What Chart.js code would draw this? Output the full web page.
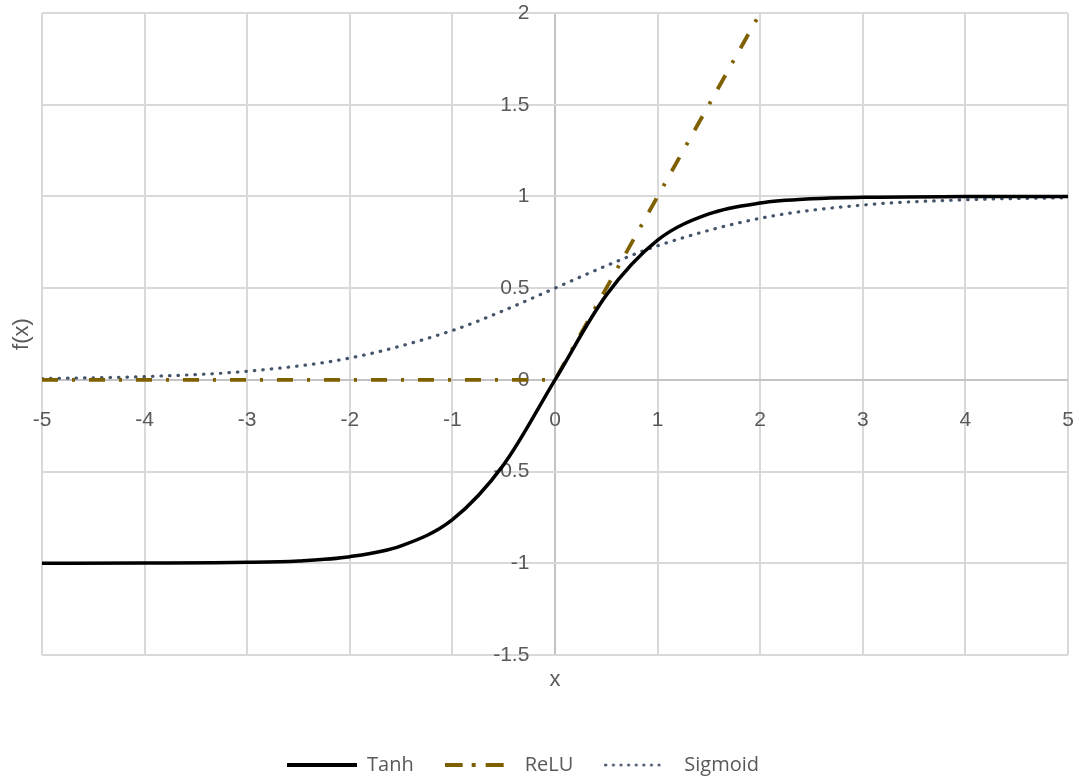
<!DOCTYPE html>
<html>
<head>
<meta charset="utf-8">
<title>Activation functions</title>
<script src="https://cdn.jsdelivr.net/npm/chart.js@4.4.1/dist/chart.umd.min.js"></script>
<style>
  html, body { margin: 0; padding: 0; background: #ffffff; }
  #wrap { width: 1079px; height: 782px; }
</style>
</head>
<body>
<div id="wrap"><canvas id="fnChart" width="1079" height="782"></canvas></div>
<script>
// values
const tanhX = [-5, -4, -3, -2.5, -2, -1.5, -1, -0.5, 0, 0.5, 1, 1.5, 2, 2.5, 3, 4, 5];
const tanhY = [-1, -0.999, -0.995, -0.987, -0.964, -0.905, -0.762, -0.462, 0, 0.462, 0.762, 0.905, 0.964, 0.987, 0.995, 0.999, 1];

const reluX = [-5, -4, -3, -2, -1, 0, 1, 2, 3, 4, 5];
const reluY = [0, 0, 0, 0, 0, 0, 1, 2, 3, 4, 5];

const sigmoidX = [-5, -4, -3, -2, -1, -0.5, 0, 0.5, 1, 2, 3, 4, 5];
const sigmoidY = [0.007, 0.018, 0.047, 0.119, 0.269, 0.378, 0.5, 0.622, 0.731, 0.881, 0.953, 0.982, 0.993];

const seriesNames = ['Tanh', 'ReLU', 'Sigmoid'];
const xTitle = 'x';
const yTitle = 'f(x)';

const xMin = -5, xMax = 5, xStep = 1;
const yMin = -1.5, yMax = 2, yStep = 0.5;

const textGray = '#595959';
const gridGray = '#d9d9d9';
const zeroGray = '#c4c4c4';
const tanhColor = '#000000';
const reluColor = '#7f6000';
const sigmoidColor = '#44546a';

function pairs(xs, ys) {
    return xs.map((x, i) => ({ x: x, y: ys[i] }));
}

// little line pictures for the legend, since point styles ignore dashes
function lineSample(color, width, dash, length) {
    const c = document.createElement('canvas');
    c.width = 70;
    c.height = 8;
    const g = c.getContext('2d');
    g.strokeStyle = color;
    g.lineWidth = width;
    g.setLineDash(dash);
    g.lineCap = dash.length && dash[0] < 1 ? 'round' : 'butt';
    g.beginPath();
    g.moveTo(g.lineCap === 'round' ? width / 2 : 0, 4);
    g.lineTo(length, 4);
    g.stroke();
    return c;
}

// axis titles, drawn next to the plot area
const axisTitles = {
    id: 'axisTitles',
    afterDraw(chart) {
        const { ctx, chartArea } = chart;
        ctx.save();
        ctx.fillStyle = textGray;
        ctx.font = '22px "Liberation Sans", Arial, sans-serif';
        ctx.textAlign = 'center';
        ctx.textBaseline = 'middle';
        ctx.fillText(xTitle, (chartArea.left + chartArea.right) / 2, chartArea.bottom + 25);
        ctx.translate(22, (chartArea.top + chartArea.bottom) / 2);
        ctx.rotate(-Math.PI / 2);
        ctx.fillText(yTitle, 0, 0);
        ctx.restore();
    }
};

// move the legend down to the bottom edge and a bit left, like the original
const legendNudge = {
    id: 'legendNudge',
    afterLayout(chart) {
        const lg = chart.legend;
        if (!lg) return;
        lg.right -= 64;
        lg.top += 69;
        lg.bottom += 69;
    }
};

// axes sit inside the plot, so they should not add any padding
function noPad(scale) {
    scale.paddingLeft = 0;
    scale.paddingRight = 0;
    scale.paddingTop = 0;
    scale.paddingBottom = 0;
}

const ctx = document.getElementById('fnChart').getContext('2d');
const chart = new Chart(ctx, {
    type: 'scatter',
    data: {
        datasets: [{
            label: seriesNames[0],
            data: pairs(tanhX, tanhY),
            showLine: true,
            borderColor: tanhColor,
            backgroundColor: tanhColor,
            borderWidth: 3.5,
            pointRadius: 0,
            pointStyle: lineSample(tanhColor, 4, [], 71),
            cubicInterpolationMode: 'monotone'
        },
        {
            label: seriesNames[1],
            data: pairs(reluX, reluY),
            showLine: true,
            borderColor: reluColor,
            backgroundColor: reluColor,
            borderWidth: 3.8,
            borderDash: [16, 14, 3, 14],
            pointRadius: 0,
            pointStyle: lineSample(reluColor, 4, [18, 9, 4, 10], 59),
            tension: 0
        },
        {
            label: seriesNames[2],
            data: pairs(sigmoidX, sigmoidY),
            showLine: true,
            borderColor: sigmoidColor,
            backgroundColor: sigmoidColor,
            borderWidth: 3.2,
            borderDash: [0.5, 8],
            borderCapStyle: 'round',
            pointRadius: 0,
            pointStyle: lineSample(sigmoidColor, 3, [0.01, 7.6], 58),
            cubicInterpolationMode: 'monotone'
        }]
    },
    options: {
        responsive: false,
        animation: false,
        devicePixelRatio: 1,
        layout: {
            autoPadding: false,
            padding: { top: 13, left: 42, right: 11, bottom: 66 }
        },
        plugins: {
            tooltip: { enabled: false },
            legend: {
                position: 'bottom',
                labels: {
                    usePointStyle: true,
                    pointStyleWidth: 70,
                    padding: 31,
                    color: textGray,
                    font: { family: '"Open Sans", sans-serif', size: 20 }
                }
            }
        },
        scales: {
            x: {
                type: 'linear',
                position: { y: 0 },
                min: xMin,
                max: xMax,
                afterFit: noPad,
                ticks: {
                    stepSize: xStep,
                    autoSkip: false,
                    maxRotation: 0,
                    padding: 28,
                    color: textGray,
                    font: { family: '"Liberation Sans", Arial, sans-serif', size: 21 },
                    callback: v => String(v)
                },
                grid: {
                    drawTicks: false,
                    lineWidth: 2,
                    color: c => (c.tick && c.tick.value === 0 ? zeroGray : gridGray)
                },
                border: { display: false }
            },
            y: {
                type: 'linear',
                position: { x: -0.25 },
                min: yMin,
                max: yMax,
                afterFit: noPad,
                ticks: {
                    stepSize: yStep,
                    autoSkip: false,
                    padding: 0,
                    color: textGray,
                    font: { family: '"Liberation Sans", Arial, sans-serif', size: 21 },
                    callback: v => String(v)
                },
                grid: {
                    drawTicks: false,
                    lineWidth: 2,
                    color: c => (c.tick && c.tick.value === 0 ? zeroGray : gridGray)
                },
                border: { display: false }
            }
        }
    },
    plugins: [axisTitles, legendNudge]
});
</script>
</body>
</html>
